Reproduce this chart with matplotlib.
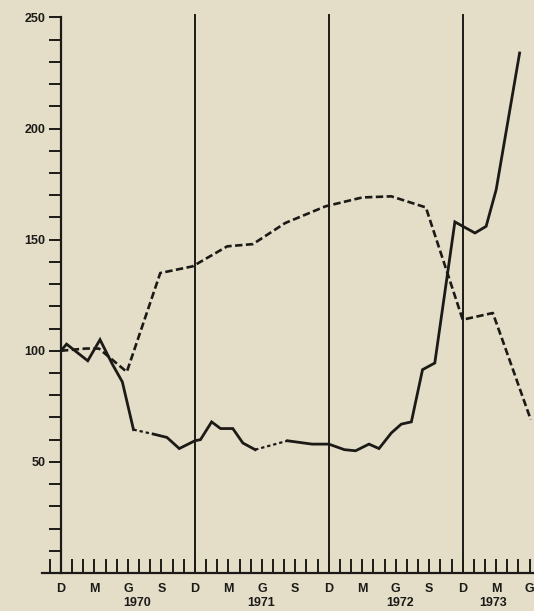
import matplotlib.pyplot as plt
import matplotlib.transforms as mtransforms

# --- data (x = months from Dec 1969) ---
solid_months = [0, 0.5, 2.4, 3.5, 4.6, 5.5, 6.5, 8.3, 9.5, 10.6, 12.0, 12.5, 13.5,
                14.3, 15.4, 16.3, 17.4, 20.3, 22.5, 24.0, 25.4, 26.4, 27.6, 28.5,
                29.6, 30.5, 31.4, 32.4, 33.5, 35.3, 37.1, 38.1, 39.0, 41.1]
solid_values = [100, 103, 95.5, 105, 94, 86, 64.5, 62.5, 61, 56, 59.5, 60, 68,
                65, 65, 58.5, 55.5, 59.5, 58, 58, 55.5, 55, 58, 56,
                63, 67, 68, 91.5, 94.5, 158, 153, 156, 172.5, 234]
# segments of the solid series drawn dotted (index pairs)
solid_gaps = [(6, 7), (16, 17)]

dashed_months = [0, 2.2, 3.4, 5.9, 8.9, 11.8, 14.9, 17.2, 20.1, 23.7, 27.0, 29.6,
                 32.7, 36.0, 38.7, 42.1]
dashed_values = [100, 101, 101, 90.5, 135, 138, 147, 148, 157.5, 165, 169, 169.5,
                 164.5, 114, 117, 69]

year_dividers = [12, 24, 36]
month_letters = ["D", "M", "G", "S"]
years = ["1970", "1971", "1972", "1973"]
year_pos = [6.8, 17.9, 30.4, 38.7]

BG = "#e4dec8"
INK = "#1c1a17"

plt.rcParams['font.family'] = ['Liberation Sans', 'DejaVu Sans']

fig = plt.figure(figsize=(5.34, 6.11), dpi=100, facecolor=BG)
ax = fig.add_axes([42 / 534, 38 / 611, 491 / 534, 560 / 611])
ax.set_facecolor(BG)

ax.set_xlim(-1.7, 42.3)
ax.set_ylim(0, 252)

# solid series, split where the original has dotted joins
breaks = [0]
for a, b in solid_gaps:
    breaks += [a, b]
breaks.append(len(solid_months) - 1)
for i in range(0, len(breaks), 2):
    s, e = breaks[i], breaks[i + 1]
    ax.plot(solid_months[s:e + 1], solid_values[s:e + 1], color=INK, lw=2.0,
            solid_joinstyle='miter')
for a, b in solid_gaps:
    ax.plot(solid_months[a:b + 1], solid_values[a:b + 1], color=INK, lw=1.6,
            linestyle=(0, (1.5, 1.3)))

ax.plot(dashed_months, dashed_values, color=INK, lw=1.9, linestyle=(0, (2.8, 1.3)))

for m in year_dividers:
    ax.plot([m, m], [0, 251], color=INK, lw=1.4)

# axes
for side in ['top', 'right']:
    ax.spines[side].set_visible(False)
ax.spines['left'].set_position(('data', 0))
ax.spines['left'].set_bounds(0, 250)
ax.spines['left'].set_linewidth(1.6)
ax.spines['bottom'].set_linewidth(1.6)
ax.spines['left'].set_color(INK)
ax.spines['bottom'].set_color(INK)

yt = list(range(10, 251, 10))
ax.set_yticks(yt)
ax.set_yticklabels([str(v) if v % 50 == 0 else "" for v in yt])
ax.tick_params(axis='y', direction='out', length=9, width=1.4, color=INK,
               labelsize=9, pad=2)

xt = list(range(-1, 43))
ax.set_xticks(xt)
ax.set_xticklabels([month_letters[(m // 3) % 4] if m >= 0 and m % 3 == 0 else ""
                    for m in xt])
ax.tick_params(axis='x', direction='in', length=10, width=1.4, color=INK,
               labelsize=9, pad=7)
for lab in ax.get_xticklabels() + ax.get_yticklabels():
    lab.set_fontweight('bold')
    lab.set_color(INK)

trans = mtransforms.blended_transform_factory(ax.transData, fig.transFigure)
for yr, xp in zip(years, year_pos):
    ax.text(xp, 2 / 611, yr, transform=trans, ha='center', va='bottom',
            fontsize=9, fontweight='bold', color=INK)

fig.savefig("out.png", dpi=100, facecolor=BG)
